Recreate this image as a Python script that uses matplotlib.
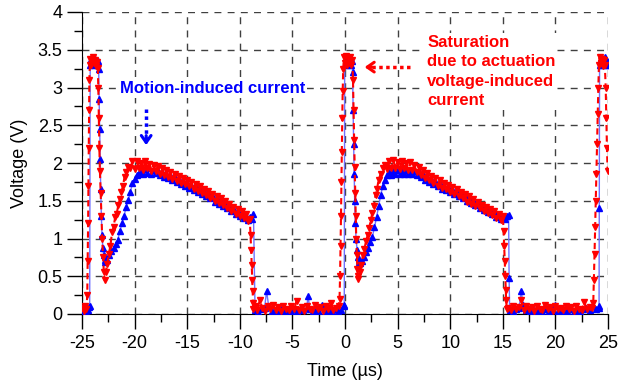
import matplotlib
matplotlib.use("Agg")
import matplotlib.pyplot as plt
from matplotlib.ticker import MultipleLocator, FormatStrFormatter

plt.rcParams['font.family'] = ['Liberation Sans', 'DejaVu Sans']
plt.rcParams['axes.unicode_minus'] = False  # v originále obyčejný spojovník "-25"

# Kanál 1 (červený) - úseky průběhu, čas v µs, napětí ve V
red_edge1_t = [-25.0, -24.85, -24.7, -24.58, -24.5, -24.46, -24.42, -24.39, -24.36, -24.33, -24.3, -24.26,
               -24.2, -24.1, -24.0, -23.9, -23.8, -23.7, -23.6, -23.5, -23.45, -23.4, -23.35, -23.3,
               -23.22, -23.15, -23.08, -23.0, -22.92, -22.86]
red_edge1_v = [0.08, 0.04, 0.1, 0.06, 0.25, 0.7, 1.2, 1.7, 2.2, 2.7, 3.1, 3.3,
               3.38, 3.3, 3.4, 3.32, 3.36, 3.28, 3.34, 3.26, 3.0, 2.6, 2.2, 1.9,
               1.6, 1.3, 1.0, 0.75, 0.55, 0.45]

red_hump1_t = [-22.75, -22.6, -22.45, -22.3, -22.15, -22.0, -21.85, -21.7, -21.55, -21.4, -21.25, -21.1,
               -20.95, -20.8, -20.6, -20.4, -20.2, -20.0, -19.8, -19.6, -19.4, -19.2, -19.0, -18.8,
               -18.6, -18.4, -18.2, -18.0, -17.8, -17.6, -17.4, -17.2, -17.0, -16.8, -16.6, -16.4,
               -16.2, -16.0, -15.8, -15.6, -15.4, -15.2, -15.0, -14.8, -14.6, -14.4, -14.2, -14.0,
               -13.8, -13.6, -13.4, -13.2, -13.0, -12.8, -12.6, -12.4, -12.2, -12.0, -11.8, -11.6,
               -11.4, -11.2, -11.0, -10.8, -10.6, -10.4, -10.2, -10.0, -9.8, -9.6, -9.4, -9.2, -9.05]
red_hump1_v = [0.55, 0.66, 0.8, 0.9, 1.08, 1.15, 1.28, 1.33, 1.44, 1.52, 1.62, 1.7,
               1.82, 1.88, 1.95, 1.93,
               2.02, 1.92, 2.03, 1.94, 2.0, 1.91, 2.03, 1.93, 1.99, 1.9,
               1.98, 1.89, 1.96, 1.86, 1.93, 1.84, 1.91, 1.82, 1.88, 1.79,
               1.86, 1.76, 1.83, 1.74, 1.8, 1.72, 1.78, 1.69, 1.75, 1.66,
               1.72, 1.63, 1.69, 1.6, 1.66, 1.57, 1.63, 1.54, 1.59, 1.5,
               1.56, 1.47, 1.53, 1.44, 1.5, 1.4, 1.46, 1.37, 1.42, 1.33,
               1.39, 1.3, 1.36, 1.27, 1.33, 1.23, 1.26]

red_fall1_t = [-8.98, -8.92, -8.87, -8.83, -8.78, -8.74, -8.7]
red_fall1_v = [1.05, 0.85, 0.65, 0.45, 0.3, 0.15, 0.06]

red_low1_t = [-8.6, -8.35, -8.1, -7.85, -7.6, -7.35, -7.1, -6.85, -6.6, -6.35, -6.1, -5.85,
              -5.6, -5.35, -5.1, -4.85, -4.6, -4.35, -4.1, -3.85, -3.6, -3.35, -3.1, -2.85,
              -2.6, -2.35, -2.1, -1.85, -1.6, -1.35, -1.1, -0.85, -0.6]
red_low1_v = [0.1, 0.05, 0.18, 0.08, 0.04, 0.1, 0.06, 0.12, 0.05, 0.09, 0.04, 0.1,
              0.07, 0.05, 0.11, 0.06, 0.17, 0.05, 0.09, 0.04, 0.1, 0.07, 0.05, 0.12,
              0.06, 0.09, 0.04, 0.1, 0.06, 0.15, 0.05, 0.08, 0.1]

red_edge2_t = [-0.52, -0.47, -0.42, -0.38, -0.34, -0.3, -0.26, -0.22, -0.17, -0.1, 0.0, 0.1,
               0.2, 0.3, 0.4, 0.5, 0.6, 0.7, 0.76, 0.82, 0.87, 0.92, 0.97, 1.02,
               1.07, 1.12, 1.17, 1.22, 1.27]
red_edge2_v = [0.2, 0.5, 0.9, 1.3, 1.75, 2.15, 2.6, 2.95, 3.25, 3.4, 3.33, 3.42,
               3.3, 3.38, 3.32, 3.4, 3.3, 3.36, 3.1, 2.7, 2.3, 1.95, 1.6, 1.3,
               1.0, 0.78, 0.6, 0.5, 0.46]

red_hump2_t = [1.4, 1.55, 1.7, 1.85, 2.0, 2.15, 2.3, 2.45, 2.6, 2.75, 2.9, 3.05,
               3.2, 3.4, 3.6, 3.8, 4.0, 4.2, 4.4, 4.6, 4.8, 5.0, 5.2, 5.4,
               5.6, 5.8, 6.0, 6.2, 6.4, 6.6, 6.8, 7.0, 7.2, 7.4, 7.6, 7.8,
               8.0, 8.2, 8.4, 8.6, 8.8, 9.0, 9.2, 9.4, 9.6, 9.8, 10.0, 10.2,
               10.4, 10.6, 10.8, 11.0, 11.2, 11.4, 11.6, 11.8, 12.0, 12.2, 12.4, 12.6,
               12.8, 13.0, 13.2, 13.4, 13.6, 13.8, 14.0, 14.2, 14.4, 14.6, 14.8, 15.0]
red_hump2_v = [0.55, 0.65, 0.78, 0.86, 0.97, 1.04, 1.14, 1.24, 1.34, 1.43, 1.58, 1.66,
               1.78, 1.86, 1.94, 1.97,
               1.92, 2.02, 1.93, 2.04, 1.94, 2.01, 1.92, 2.03, 1.94, 2.0,
               1.91, 2.01, 1.91, 1.98, 1.88, 1.95, 1.84, 1.91, 1.8, 1.87,
               1.77, 1.83, 1.73, 1.8, 1.7, 1.77, 1.67, 1.74, 1.65, 1.71,
               1.62, 1.68, 1.59, 1.65, 1.56, 1.62, 1.53, 1.59, 1.49, 1.56,
               1.46, 1.52, 1.43, 1.49, 1.4, 1.45, 1.37, 1.42, 1.34, 1.39,
               1.31, 1.36, 1.27, 1.33, 1.25, 1.3]

red_fall2_t = [15.08, 15.13, 15.18, 15.22, 15.27, 15.32, 15.38]
red_fall2_v = [1.1, 0.9, 0.7, 0.5, 0.32, 0.18, 0.07]

red_low2_t = [15.5, 15.75, 16.0, 16.25, 16.5, 16.75, 17.0, 17.25, 17.5, 17.75, 18.0, 18.25,
              18.5, 18.75, 19.0, 19.25, 19.5, 19.75, 20.0, 20.25, 20.5, 20.75, 21.0, 21.25,
              21.5, 21.75, 22.0, 22.25, 22.5, 22.75, 23.0, 23.25, 23.5]
red_low2_v = [0.08, 0.05, 0.1, 0.06, 0.09, 0.19, 0.05, 0.11, 0.06, 0.09, 0.04, 0.1,
              0.07, 0.05, 0.12, 0.06, 0.09, 0.04, 0.1, 0.06, 0.08, 0.05, 0.11, 0.06,
              0.09, 0.04, 0.1, 0.07, 0.05, 0.16, 0.06, 0.09, 0.08]

red_edge3_t = [23.6, 23.66, 23.72, 23.78, 23.84, 23.9, 23.96, 24.02, 24.08, 24.14, 24.2, 24.3,
               24.4, 24.5, 24.6, 24.7, 24.78, 24.84, 24.9, 24.96]
red_edge3_v = [0.15, 0.45, 0.8, 1.15, 1.5, 1.85, 2.25, 2.65, 3.0, 3.3, 3.4, 3.32,
               3.38, 3.28, 3.36, 3.3, 3.0, 2.6, 2.2, 1.9]

# Kanál 2 (modrý)
blue_edge1_t = [-25.0, -24.8, -24.6, -24.45, -24.32, -24.27, -24.22, -24.1, -24.0, -23.9, -23.8, -23.7,
                -23.6, -23.5, -23.42, -23.37, -23.32, -23.27, -23.22, -23.16, -23.1, -23.02, -22.94, -22.86,
                -22.78]
blue_edge1_v = [0.04, 0.06, 0.03, 0.05, 0.09, 0.1, 3.3, 3.38, 3.3, 3.4, 3.33, 3.37,
                3.3, 3.35, 3.25, 2.85, 2.45, 2.05, 1.65, 1.3, 1.05, 0.88, 0.78, 0.72,
                0.69]

blue_hump1_t = [-22.6, -22.4, -22.2, -22.0, -21.8, -21.6, -21.4, -21.2, -21.0, -20.8, -20.6, -20.4,
                -20.2, -20.0, -19.8, -19.6, -19.4, -19.2, -19.0, -18.8, -18.6, -18.4, -18.2, -18.0,
                -17.8, -17.6, -17.4, -17.2, -17.0, -16.8, -16.6, -16.4, -16.2, -16.0, -15.8, -15.6,
                -15.4, -15.2, -15.0, -14.8, -14.6, -14.4, -14.2, -14.0, -13.8, -13.6, -13.4, -13.2,
                -13.0, -12.8, -12.6, -12.4, -12.2, -12.0, -11.8, -11.6, -11.4, -11.2, -11.0, -10.8,
                -10.6, -10.4, -10.2, -10.0, -9.8, -9.6, -9.4, -9.2, -9.0, -8.8, -8.7]
blue_hump1_v = [0.72, 0.78, 0.83, 0.88, 0.93, 0.98, 1.1, 1.2, 1.3, 1.42, 1.51, 1.62,
                1.73, 1.79, 1.84, 1.87, 1.9, 1.85, 1.92, 1.87, 1.93, 1.86, 1.91, 1.87,
                1.9, 1.84, 1.88, 1.82, 1.86, 1.8, 1.84, 1.78, 1.82, 1.75, 1.79, 1.72,
                1.76, 1.7, 1.73, 1.67, 1.71, 1.64, 1.69, 1.62, 1.66, 1.59, 1.63, 1.56,
                1.6, 1.53, 1.57, 1.49, 1.53, 1.46, 1.5, 1.43, 1.46, 1.4, 1.43, 1.36,
                1.4, 1.33, 1.36, 1.3, 1.33, 1.27, 1.3, 1.25, 1.28, 1.26, 1.32]

blue_low1_t = [-8.55, -8.25, -7.95, -7.65, -7.45, -7.25, -6.95, -6.65, -6.35, -6.05, -5.75, -5.45,
               -5.15, -4.85, -4.55, -4.25, -3.95, -3.65, -3.5, -3.35, -3.05, -2.75, -2.45, -2.15,
               -1.85, -1.55, -1.25, -0.95, -0.65, -0.35, -0.1]
blue_low1_v = [0.05, 0.03, 0.06, 0.08, 0.3, 0.1, 0.04, 0.05, 0.03, 0.06, 0.04, 0.05,
               0.03, 0.06, 0.04, 0.07, 0.05, 0.08, 0.24, 0.06, 0.04, 0.05, 0.03, 0.12,
               0.04, 0.05, 0.03, 0.06, 0.04, 0.05, 0.1]

blue_edge2_t = [-0.07, -0.03, 0.05, 0.15, 0.25, 0.35, 0.45, 0.55, 0.65, 0.72, 0.77, 0.82,
                0.87, 0.92, 0.98, 1.05, 1.15, 1.25, 1.35, 1.45]
blue_edge2_v = [0.12, 3.3, 3.38, 3.3, 3.36, 3.32, 3.4, 3.3, 3.35, 3.2, 2.7, 2.25,
                1.85, 1.5, 1.2, 1.0, 0.85, 0.75, 0.69, 0.67]

blue_hump2_t = [1.6, 1.8, 2.0, 2.2, 2.4, 2.6, 2.8, 3.0, 3.2, 3.4, 3.6, 3.8,
                4.0, 4.2, 4.4, 4.6, 4.8, 5.0, 5.2, 5.4, 5.6, 5.8, 6.0, 6.2,
                6.4, 6.6, 6.8, 7.0, 7.2, 7.4, 7.6, 7.8, 8.0, 8.2, 8.4, 8.6,
                8.8, 9.0, 9.2, 9.4, 9.6, 9.8, 10.0, 10.2, 10.4, 10.6, 10.8, 11.0,
                11.2, 11.4, 11.6, 11.8, 12.0, 12.2, 12.4, 12.6, 12.8, 13.0, 13.2, 13.4,
                13.6, 13.8, 14.0, 14.2, 14.4, 14.6, 14.8, 15.0, 15.2, 15.4, 15.55]
blue_hump2_v = [0.7, 0.75, 0.82, 0.88, 0.95, 1.02, 1.15, 1.28, 1.43, 1.58, 1.7, 1.78,
                1.84, 1.88, 1.84, 1.9, 1.85, 1.91, 1.86, 1.9, 1.85, 1.91, 1.86, 1.9,
                1.85, 1.89, 1.84, 1.88, 1.81, 1.85, 1.78, 1.82, 1.75, 1.79, 1.72, 1.76,
                1.69, 1.73, 1.66, 1.7, 1.64, 1.68, 1.61, 1.65, 1.59, 1.62, 1.56, 1.6,
                1.53, 1.57, 1.5, 1.54, 1.47, 1.51, 1.44, 1.48, 1.41, 1.45, 1.38, 1.42,
                1.35, 1.39, 1.32, 1.36, 1.29, 1.33, 1.26, 1.3, 1.26, 1.3, 1.31]

blue_low2_t = [15.6, 15.65, 15.95, 16.25, 16.55, 16.75, 16.95, 17.25, 17.55, 17.85, 18.15, 18.45,
               18.75, 19.05, 19.35, 19.65, 19.95, 20.25, 20.55, 20.85, 21.15, 21.45, 21.75, 22.05,
               22.35, 22.65, 22.95, 23.25, 23.55, 23.85, 24.1, 24.15]
blue_low2_v = [0.48, 0.05, 0.04, 0.06, 0.08, 0.3, 0.12, 0.05, 0.03, 0.06, 0.04, 0.05,
               0.03, 0.06, 0.04, 0.05, 0.12, 0.04, 0.03, 0.05, 0.04, 0.06, 0.03, 0.05,
               0.04, 0.06, 0.08, 0.05, 0.1, 0.06, 0.08, 0.1]

blue_edge3_t = [24.17, 24.2, 24.3, 24.4, 24.5, 24.6, 24.7, 24.8, 24.9, 24.98]
blue_edge3_v = [1.4, 3.3, 3.38, 3.3, 3.36, 3.32, 3.4, 3.3, 3.35, 3.3]

red_t = (red_edge1_t + red_hump1_t + red_fall1_t + red_low1_t + red_edge2_t + red_hump2_t
         + red_fall2_t + red_low2_t + red_edge3_t)
red_v = (red_edge1_v + red_hump1_v + red_fall1_v + red_low1_v + red_edge2_v + red_hump2_v
         + red_fall2_v + red_low2_v + red_edge3_v)
blue_t = (blue_edge1_t + blue_hump1_t + blue_low1_t + blue_edge2_t + blue_hump2_t
          + blue_low2_t + blue_edge3_t)
blue_v = (blue_edge1_v + blue_hump1_v + blue_low1_v + blue_edge2_v + blue_hump2_v
          + blue_low2_v + blue_edge3_v)

fig = plt.figure(figsize=(6.18, 3.85), dpi=100)
ax = fig.add_axes([82 / 618, 71 / 385, 526 / 618, 302 / 385])

# modrý kanál: tenká světlá čára + trojúhelníky nahoru
ax.plot(blue_t, blue_v, color='#7070ff', lw=1.0, zorder=3)
ax.plot(blue_t, blue_v, ls='none', marker='^', ms=4.3, color='#0000ff', mec='#0000ff', zorder=3)
# červený kanál: čárkovaná čára + trojúhelníky dolů
ax.plot(red_t, red_v, color='#ff0000', lw=1.5, ls='--', dashes=(3, 2), marker='v', ms=4.3,
        mec='#ff0000', zorder=4)

ax.set_xlim(-25, 25)
ax.set_ylim(0, 4)
ax.xaxis.set_major_locator(MultipleLocator(5))
ax.xaxis.set_minor_locator(MultipleLocator(2.5))
ax.yaxis.set_major_locator(MultipleLocator(0.5))
ax.yaxis.set_minor_locator(MultipleLocator(0.25))
ax.yaxis.set_major_formatter(FormatStrFormatter('%g'))
ax.xaxis.set_major_formatter(FormatStrFormatter('%g'))
ax.tick_params(which='major', direction='out', length=11, width=1, labelsize=13, pad=3)
ax.tick_params(which='minor', direction='out', length=6, width=1)
ax.tick_params(axis='x', which='major', pad=4)

ax.grid(True, which='major', color='#404040', lw=1, ls=(0, (5, 4.5)))
ax.set_axisbelow(True)
for s in ['top', 'right']:
    ax.spines[s].set_visible(False)

ax.set_xlabel('Time (µs)', fontsize=13, labelpad=8)
ax.set_ylabel('Voltage (V)', fontsize=13, labelpad=7)

# popisky (bílé pozadí zakrývá mřížku) a šipky
box = dict(facecolor='white', edgecolor='none', pad=1.5)
ax.text(-21.4, 2.99, 'Motion-induced current', color='#0000ff', fontsize=12,
        fontweight='bold', ha='left', va='center', bbox=box, zorder=6)
ax.plot([-18.9, -18.9], [2.72, 2.28], color='#0000ff', lw=2.5, ls=(0, (1, 1)), zorder=6)
ax.annotate('', xy=(-18.9, 2.2), xytext=(-18.9, 2.4),
            arrowprops=dict(arrowstyle='->, head_width=0.35, head_length=0.5', color='#0000ff', lw=2.2),
            zorder=6)

ax.text(7.8, 3.70, 'Saturation\ndue to actuation\nvoltage-induced\ncurrent', color='#ff0000',
        fontsize=12, fontweight='bold', ha='left', va='top', linespacing=1.38, bbox=box, zorder=6)
ax.plot([6.2, 2.2], [3.27, 3.27], color='#ff0000', lw=2.5, ls=(0, (1, 1)), zorder=6)
ax.annotate('', xy=(1.6, 3.27), xytext=(2.8, 3.27),
            arrowprops=dict(arrowstyle='->, head_width=0.35, head_length=0.5', color='#ff0000', lw=2.2),
            zorder=6)

fig.savefig('out.png', dpi=100)
